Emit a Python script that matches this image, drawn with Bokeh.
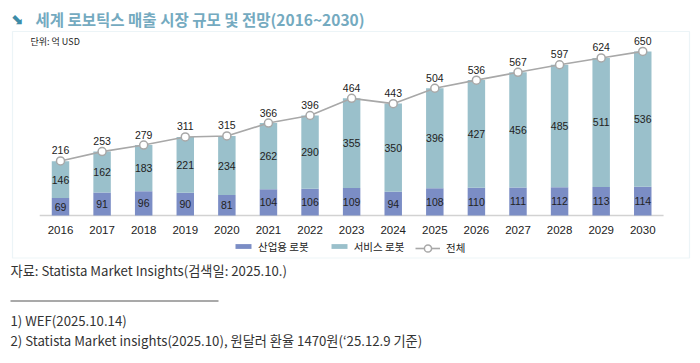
from bokeh.plotting import figure
from bokeh.models import (ColumnDataSource, Label, BoxAnnotation, Legend, LegendItem,
                          Range1d)
from bokeh.core.properties import value
from bokeh.embed import file_html
from bokeh.resources import INLINE

years = ["2016", "2017", "2018", "2019", "2020", "2021", "2022", "2023",
         "2024", "2025", "2026", "2027", "2028", "2029", "2030"]
industrial = [69, 91, 96, 90, 81, 104, 106, 109, 94, 108, 110, 111, 112, 113, 114]
service = [146, 162, 183, 221, 234, 262, 290, 355, 350, 396, 427, 456, 485, 511, 536]
total = [216, 253, 279, 311, 315, 366, 396, 464, 443, 504, 536, 567, 597, 624, 650]

title_text = "세계 로보틱스 매출 시장 규모 및 전망(2016~2030)"
unit_text = "단위: 억 USD"
series_names = ["산업용 로봇", "서비스 로봇", "전체"]
source_text = "자료: Statista Market Insights(검색일: 2025.10.)"
note1 = "1) WEF(2025.10.14)"
note2 = "2) Statista Market insights(2025.10), 원달러 환율 1470원(‘25.12.9 기준)"

IND_C = "#7b8dc5"
SRV_C = "#9ac0cb"
LINE_C = "#a8a8a8"
NUM_FONT = value("Liberation Sans")
KR = "Noto Sans CJK KR"

W, H = 696, 358
PX_PER_CAT = 41.59
FIRST_CX = 60.0          # canvas x of first category centre
BASE_Y = 215.0           # canvas y (from top) of the zero line
PX_PER_UNIT = 0.2525

idx = list(range(len(years)))
src = ColumnDataSource(dict(
    x=idx, year=years, ind=industrial, srv=service, tot=total,
    zero=[0] * len(years),
    ind_mid=[i / 2 for i in industrial],
    srv_mid=[i + s / 2 for i, s in zip(industrial, service)],
    top=[i + s for i, s in zip(industrial, service)],
    ind_lab=[str(v) for v in industrial],
    srv_lab=[str(v) for v in service],
    tot_lab=[str(v) for v in total],
))

x0 = -FIRST_CX / PX_PER_CAT
x_rng = Range1d(x0, x0 + W / PX_PER_CAT)
y_rng = Range1d(-(H - BASE_Y) / PX_PER_UNIT, BASE_Y / PX_PER_UNIT)

p = figure(width=W, height=H, x_range=x_rng, y_range=y_rng,
           output_backend="svg", toolbar_location=None,
           min_border=0, min_border_left=0, min_border_right=0,
           min_border_top=0, min_border_bottom=0)
p.xaxis.visible = False
p.yaxis.visible = False
p.xgrid.visible = False
p.ygrid.visible = False
p.outline_line_color = None
p.background_fill_color = "white"
p.border_fill_color = "white"

# baseline (category axis line)
p.segment(x0=[-0.5], x1=[len(years) - 0.5], y0=[0], y1=[0],
          line_color="#d2d2d2", line_width=1.5)

r_ind = p.vbar(x="x", bottom=0, top="ind", width=0.42, source=src,
               fill_color=IND_C, line_color=None)
r_srv = p.vbar(x="x", bottom="ind", top="top", width=0.42, source=src,
               fill_color=SRV_C, line_color=None)
r_line = p.line(x="x", y="tot", source=src, line_color=LINE_C, line_width=1.6)
r_pts = p.scatter(x="x", y="tot", source=src, size=8, fill_color="white",
                  line_color=LINE_C, line_width=1.5)

# category tick labels
p.text(x="x", y="zero", text="year", source=src, text_align="center",
       text_baseline="middle", y_offset=14, text_font=NUM_FONT,
       text_font_size="11.5px", text_color="#222222")

p.text(x="x", y="ind_mid", text="ind_lab", source=src, text_align="center",
       text_baseline="middle", text_font=NUM_FONT, text_font_size="10.5px",
       text_color="#222222")
p.text(x="x", y="srv_mid", text="srv_lab", source=src, text_align="center",
       text_baseline="middle", text_font=NUM_FONT, text_font_size="10.5px",
       text_color="#222222")
p.text(x="x", y="tot", text="tot_lab", source=src, text_align="center",
       text_baseline="middle", y_offset=-10.5, text_font=NUM_FONT,
       text_font_size="10.5px", text_color="#222222")

leg_a = Legend(items=[
    LegendItem(label=series_names[0], renderers=[r_ind]),
    LegendItem(label=series_names[1], renderers=[r_srv]),
], orientation="horizontal", location=(233, H - 253.5), margin=0, padding=0,
    glyph_width=20, glyph_height=6, label_height=6, label_standoff=5,
    spacing=20, border_line_color=None, background_fill_alpha=0,
    label_text_font=KR, label_text_font_size="10.5px",
    label_text_color="#222222", label_text_baseline="middle")
leg_b = Legend(items=[
    LegendItem(label=series_names[2], renderers=[r_line, r_pts]),
], orientation="horizontal", location=(415, H - 256.5), margin=0, padding=0,
    glyph_width=25, glyph_height=18, label_height=6, label_standoff=6,
    spacing=0, border_line_color=None, background_fill_alpha=0,
    label_text_font=KR, label_text_font_size="10.5px",
    label_text_color="#222222", label_text_baseline="middle")
p.add_layout(leg_a)
p.add_layout(leg_b)

# frame box
p.add_layout(BoxAnnotation(left=12, right=689, top=31, bottom=257.5,
                           left_units="canvas", right_units="canvas",
                           top_units="canvas", bottom_units="canvas",
                           fill_alpha=0, line_color="#bfdae5", line_width=1.2))

# title
p.add_layout(Label(x=10, y=18, x_units="canvas", y_units="canvas", text="⬊",
                   text_font="DejaVu Sans", text_font_style="bold",
                   text_font_size="15px", text_color="#3d8ca8",
                   text_baseline="middle"))
p.add_layout(Label(x=35, y=18, x_units="canvas", y_units="canvas", text=title_text,
                   text_font=KR, text_font_style="bold",
                   text_font_size="15.5px", text_color="#74aac0",
                   text_baseline="middle"))
p.add_layout(Label(x=30, y=41, x_units="canvas", y_units="canvas", text=unit_text,
                   text_font=KR, text_font_size="9px", text_color="#222222",
                   text_baseline="middle"))

# footer
p.add_layout(Label(x=10, y=270, x_units="canvas", y_units="canvas", text=source_text,
                   text_font=KR, text_font_size="13.2px", text_color="#333333",
                   text_baseline="middle"))
p.add_layout(BoxAnnotation(left=10, right=218, top=300, bottom=301,
                           left_units="canvas", right_units="canvas",
                           top_units="canvas", bottom_units="canvas",
                           fill_color="#555555", fill_alpha=1, line_color=None))
p.add_layout(Label(x=10, y=320, x_units="canvas", y_units="canvas", text=note1,
                   text_font=KR, text_font_size="13.2px", text_color="#333333",
                   text_baseline="middle"))
p.add_layout(Label(x=10, y=340, x_units="canvas", y_units="canvas", text=note2,
                   text_font=KR, text_font_size="13.2px", text_color="#333333",
                   text_baseline="middle"))

open("out.html", "w").write(file_html(p, INLINE))
